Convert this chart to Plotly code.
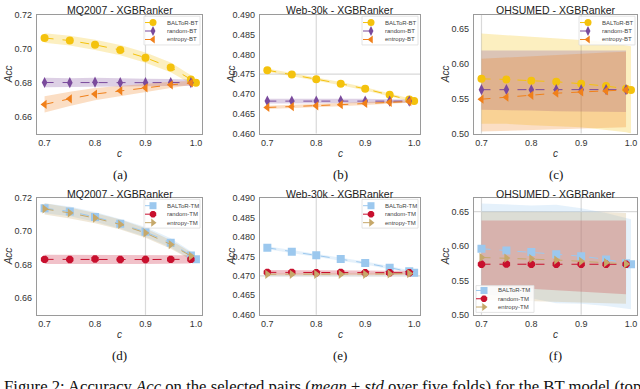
import plotly.graph_objects as go

W, H = 640, 389

# selection ratio c
c_vals = [0.7, 0.75, 0.8, 0.85, 0.9, 0.95, 0.99]
c_full = [0.7, 0.75, 0.8, 0.85, 0.9, 0.95, 0.99, 1.0]

# ---- MQ2007, BT model
mq_bt_baltor = [0.7063, 0.7048, 0.7023, 0.6992, 0.6947, 0.6890, 0.6819, 0.6800]
mq_bt_baltor_lo = [0.7035, 0.7019, 0.6993, 0.6962, 0.6917, 0.6861, 0.6794, 0.6785]
mq_bt_baltor_hi = [0.7091, 0.7077, 0.7053, 0.7022, 0.6977, 0.6919, 0.6844, 0.6815]
mq_bt_random = [0.6801, 0.6800, 0.6803, 0.6800, 0.6800, 0.6801, 0.6800]
mq_bt_random_lo = [0.6773, 0.6774, 0.6777, 0.6776, 0.6777, 0.6780, 0.6782]
mq_bt_random_hi = [0.6829, 0.6826, 0.6829, 0.6824, 0.6823, 0.6822, 0.6818]
mq_bt_entropy = [0.6672, 0.6705, 0.6733, 0.6752, 0.6770, 0.6787, 0.6798]
mq_bt_entropy_lo = [0.6624, 0.6663, 0.6697, 0.6722, 0.6746, 0.6769, 0.6786]
mq_bt_entropy_hi = [0.6720, 0.6747, 0.6769, 0.6782, 0.6794, 0.6805, 0.6810]

# ---- Web-30k, BT model
web_bt_baltor = [0.4760, 0.4749, 0.4737, 0.4726, 0.4713, 0.4698, 0.4686, 0.4682]
web_bt_baltor_lo = [0.4756, 0.4745, 0.4733, 0.4722, 0.4709, 0.4694, 0.4683, 0.4679]
web_bt_baltor_hi = [0.4764, 0.4753, 0.4741, 0.4730, 0.4717, 0.4702, 0.4689, 0.4685]
web_bt_random = [0.4682, 0.4682, 0.4682, 0.4683, 0.4682, 0.4682, 0.4682]
web_bt_random_lo = [0.4676, 0.4676, 0.4676, 0.4677, 0.4676, 0.4677, 0.4678]
web_bt_random_hi = [0.4688, 0.4688, 0.4688, 0.4689, 0.4688, 0.4687, 0.4686]
web_bt_entropy = [0.4666, 0.4668, 0.4670, 0.4673, 0.4676, 0.4679, 0.4681]
web_bt_entropy_lo = [0.4662, 0.4664, 0.4666, 0.4669, 0.4672, 0.4676, 0.4678]
web_bt_entropy_hi = [0.4670, 0.4672, 0.4674, 0.4677, 0.4680, 0.4682, 0.4684]

# ---- OHSUMED, BT model
oh_bt_baltor = [0.5783, 0.5775, 0.5756, 0.5742, 0.5713, 0.5680, 0.5642, 0.5624]
oh_bt_baltor_lo = [0.514, 0.514, 0.512, 0.511, 0.509, 0.505, 0.502, 0.500]
oh_bt_baltor_hi = [0.643, 0.641, 0.639, 0.637, 0.634, 0.631, 0.627, 0.625]
oh_bt_random = [0.5628, 0.5630, 0.5627, 0.5628, 0.5628, 0.5629, 0.5628]
oh_bt_random_lo = [0.534, 0.534, 0.533, 0.532, 0.532, 0.531, 0.531]
oh_bt_random_hi = [0.619, 0.619, 0.620, 0.620, 0.620, 0.620, 0.619]
oh_bt_entropy = [0.5492, 0.5520, 0.5548, 0.5578, 0.5595, 0.5610, 0.5625]
oh_bt_entropy_lo = [0.503, 0.504, 0.505, 0.506, 0.507, 0.508, 0.509]
oh_bt_entropy_hi = [0.607, 0.609, 0.611, 0.613, 0.615, 0.616, 0.617]

# ---- MQ2007, TM model
mq_tm_baltor = [0.7138, 0.7119, 0.7086, 0.7045, 0.6997, 0.6931, 0.6855, 0.6832]
mq_tm_baltor_lo = [0.7108, 0.7090, 0.7057, 0.7016, 0.6968, 0.6903, 0.6830, 0.6815]
mq_tm_baltor_hi = [0.7168, 0.7148, 0.7115, 0.7074, 0.7026, 0.6959, 0.6880, 0.6849]
mq_tm_random = [0.6832, 0.6831, 0.6834, 0.6831, 0.6831, 0.6832, 0.6832]
mq_tm_random_lo = [0.6805, 0.6804, 0.6807, 0.6805, 0.6805, 0.6806, 0.6807]
mq_tm_random_hi = [0.6859, 0.6858, 0.6861, 0.6857, 0.6857, 0.6858, 0.6857]
mq_tm_entropy = [0.7134, 0.7110, 0.7079, 0.7041, 0.6990, 0.6921, 0.6852]
mq_tm_entropy_lo = [0.7100, 0.7077, 0.7048, 0.7011, 0.6962, 0.6895, 0.6830]
mq_tm_entropy_hi = [0.7168, 0.7143, 0.7110, 0.7071, 0.7018, 0.6947, 0.6874]

# ---- Web-30k, TM model
web_tm_baltor = [0.4772, 0.4762, 0.4753, 0.4743, 0.4733, 0.4721, 0.4712, 0.4708]
web_tm_baltor_lo = [0.4768, 0.4758, 0.4749, 0.4739, 0.4729, 0.4717, 0.4709, 0.4705]
web_tm_baltor_hi = [0.4776, 0.4766, 0.4757, 0.4747, 0.4737, 0.4725, 0.4715, 0.4711]
web_tm_random = [0.4709, 0.4709, 0.4708, 0.4709, 0.4708, 0.4708, 0.4708]
web_tm_random_lo = [0.4703, 0.4703, 0.4702, 0.4703, 0.4702, 0.4703, 0.4703]
web_tm_random_hi = [0.4715, 0.4715, 0.4714, 0.4715, 0.4714, 0.4713, 0.4713]
web_tm_entropy = [0.4704, 0.4704, 0.4704, 0.4704, 0.4704, 0.4705, 0.4706]
web_tm_entropy_lo = [0.4701, 0.4701, 0.4701, 0.4701, 0.4701, 0.4702, 0.4703]
web_tm_entropy_hi = [0.4707, 0.4707, 0.4707, 0.4707, 0.4707, 0.4708, 0.4709]

# ---- OHSUMED, TM model
oh_tm_baltor = [0.5961, 0.5937, 0.5914, 0.5881, 0.5853, 0.5806, 0.5750, 0.5736]
oh_tm_baltor_lo = [0.530, 0.527, 0.524, 0.517, 0.516, 0.513, 0.509, 0.508]
oh_tm_baltor_hi = [0.662, 0.661, 0.659, 0.660, 0.655, 0.648, 0.641, 0.639]
oh_tm_random = [0.5736, 0.5737, 0.5736, 0.5735, 0.5736, 0.5736, 0.5735]
oh_tm_random_lo = [0.542, 0.540, 0.538, 0.536, 0.534, 0.532, 0.530]
oh_tm_random_hi = [0.637, 0.637, 0.637, 0.637, 0.637, 0.637, 0.637]
oh_tm_entropy = [0.5834, 0.5825, 0.5816, 0.5797, 0.5778, 0.5760, 0.5740]
oh_tm_entropy_lo = [0.522, 0.521, 0.520, 0.519, 0.518, 0.517, 0.516]
oh_tm_entropy_hi = [0.650, 0.650, 0.650, 0.650, 0.650, 0.649, 0.648]

mq_ticks = [0.66, 0.68, 0.70, 0.72]
web_ticks = [0.460, 0.465, 0.470, 0.475, 0.480, 0.485, 0.490]
oh_ticks = [0.50, 0.55, 0.60, 0.65]
x_ticks = [0.7, 0.8, 0.9, 1.0]

YELLOW = "#F4C20D"
PURPLE = "#7A4A9C"
ORANGE = "#F0801A"
LBLUE = "#9CC8EE"
CRIMSON = "#C8102E"
TAN = "#C6A86A"


def rgba(hexc, a):
    h = hexc.lstrip("#")
    return "rgba(%d,%d,%d,%.2f)" % (int(h[0:2], 16), int(h[2:4], 16), int(h[4:6], 16), a)


bt = [("BALToR-BT", YELLOW, "circle"), ("random-BT", PURPLE, "diamond-tall"),
      ("entropy-BT", ORANGE, "triangle-left")]
tm = [("BALToR-TM", LBLUE, "square"), ("random-TM", CRIMSON, "octagon"),
      ("entropy-TM", TAN, "triangle-right")]

panels = [
    dict(title="MQ2007 - XGBRanker", tag="(a)", yr=[0.65, 0.72], yt=mq_ticks, fmt=".2f",
         vl=[0.9], hl=[], sty=bt, leg="tr",
         data=[(c_full, mq_bt_baltor, mq_bt_baltor_lo, mq_bt_baltor_hi),
               (c_vals, mq_bt_random, mq_bt_random_lo, mq_bt_random_hi),
               (c_vals, mq_bt_entropy, mq_bt_entropy_lo, mq_bt_entropy_hi)]),
    dict(title="Web-30k - XGBRanker", tag="(b)", yr=[0.46, 0.49], yt=web_ticks, fmt=".3f",
         vl=[0.8], hl=[0.475], sty=bt, leg="tr",
         data=[(c_full, web_bt_baltor, web_bt_baltor_lo, web_bt_baltor_hi),
               (c_vals, web_bt_random, web_bt_random_lo, web_bt_random_hi),
               (c_vals, web_bt_entropy, web_bt_entropy_lo, web_bt_entropy_hi)]),
    dict(title="OHSUMED - XGBRanker", tag="(c)", yr=[0.50, 0.67], yt=oh_ticks, fmt=".2f",
         vl=[0.7, 0.9], hl=[], sty=bt, leg="tr",
         data=[(c_full, oh_bt_baltor, oh_bt_baltor_lo, oh_bt_baltor_hi),
               (c_vals, oh_bt_random, oh_bt_random_lo, oh_bt_random_hi),
               (c_vals, oh_bt_entropy, oh_bt_entropy_lo, oh_bt_entropy_hi)]),
    dict(title="MQ2007 - XGBRanker", tag="(d)", yr=[0.65, 0.72], yt=mq_ticks, fmt=".2f",
         vl=[0.9], hl=[], sty=tm, leg="tr",
         data=[(c_full, mq_tm_baltor, mq_tm_baltor_lo, mq_tm_baltor_hi),
               (c_vals, mq_tm_random, mq_tm_random_lo, mq_tm_random_hi),
               (c_vals, mq_tm_entropy, mq_tm_entropy_lo, mq_tm_entropy_hi)]),
    dict(title="Web-30k - XGBRanker", tag="(e)", yr=[0.46, 0.49], yt=web_ticks, fmt=".3f",
         vl=[0.8], hl=[0.470], sty=tm, leg="tr",
         data=[(c_full, web_tm_baltor, web_tm_baltor_lo, web_tm_baltor_hi),
               (c_vals, web_tm_random, web_tm_random_lo, web_tm_random_hi),
               (c_vals, web_tm_entropy, web_tm_entropy_lo, web_tm_entropy_hi)]),
    dict(title="OHSUMED - XGBRanker", tag="(f)", yr=[0.50, 0.67], yt=oh_ticks, fmt=".2f",
         vl=[0.7, 0.9], hl=[0.65], sty=tm, leg="bl",
         data=[(c_full, oh_tm_baltor, oh_tm_baltor_lo, oh_tm_baltor_hi),
               (c_vals, oh_tm_random, oh_tm_random_lo, oh_tm_random_hi),
               (c_vals, oh_tm_entropy, oh_tm_entropy_lo, oh_tm_entropy_hi)]),
]

# panel frames in pixels
cols_px = [(37, 202), (260, 420), (474, 637)]
rows_px = [(10, 132), (198, 318)]

SANS = "Liberation Sans, Arial, sans-serif"
SERIF = "Liberation Serif, Times New Roman, serif"

fig = go.Figure()
annotations = []
shapes = []
legend_items = []  # (x_marker, y, name, color, symbol)
legend_boxes = []  # (left, top, right, bottom)

for i, p in enumerate(panels):
    n = i + 1
    r, c = divmod(i, 3)
    x0, x1 = cols_px[c]
    y0, y1 = rows_px[r]
    xa = "x" if n == 1 else "x%d" % n
    ya = "y" if n == 1 else "y%d" % n

    for (name, col, sym), (xs, m, lo, hi) in zip(p["sty"], p["data"]):
        fig.add_trace(go.Scatter(x=xs, y=hi, mode="lines", line=dict(width=0),
                                 showlegend=False, hoverinfo="skip", xaxis=xa, yaxis=ya))
        fig.add_trace(go.Scatter(x=xs, y=lo, mode="lines", line=dict(width=0),
                                 fill="tonexty", fillcolor=rgba(col, 0.26),
                                 showlegend=False, hoverinfo="skip", xaxis=xa, yaxis=ya))
    for (name, col, sym), (xs, m, lo, hi) in zip(p["sty"], p["data"]):
        fig.add_trace(go.Scatter(x=xs, y=m, mode="lines+markers", name=name, showlegend=False,
                                 line=dict(color=col, width=1, dash="dash"),
                                 marker=dict(color=col, symbol=sym, size=8, line=dict(width=0)),
                                 xaxis=xa, yaxis=ya))

    axis_common = dict(showgrid=False, zeroline=False, showline=True, mirror=True,
                       linecolor="#9a9a9a", linewidth=1.2, ticks="",
                       tickfont=dict(family=SANS, size=9, color="#333"))
    fig.layout["xaxis" if n == 1 else "xaxis%d" % n] = dict(
        domain=[x0 / W, x1 / W], anchor=ya, range=[0.685, 1.012],
        tickvals=x_ticks, tickformat=".1f", **axis_common)
    fig.layout["yaxis" if n == 1 else "yaxis%d" % n] = dict(
        domain=[1 - y1 / H, 1 - y0 / H], anchor=xa, range=p["yr"],
        tickvals=p["yt"], tickformat=p["fmt"], ticklabelstandoff=2, **axis_common)

    for v in p["vl"]:
        shapes.append(dict(type="line", xref=xa, yref="%s domain" % ya, x0=v, x1=v,
                           y0=0, y1=1, line=dict(color="#d9d9d9", width=1.2), layer="below"))
    for v in p["hl"]:
        shapes.append(dict(type="line", xref="%s domain" % xa, yref=ya, x0=0, x1=1,
                           y0=v, y1=v, line=dict(color="#d9d9d9", width=1.2), layer="below"))

    # legend layout (pixels)
    if p["leg"] == "tr":
        mx = x1 - 49
        ys = [y0 + 8, y0 + 16.7, y0 + 25.4]
        legend_boxes.append((x1 - 58, y0 + 1.5, x1 - 2, y0 + 31))
    else:
        mx = x0 + 10
        ys = [y1 - 25, y1 - 16.5, y1 - 8]
        legend_boxes.append((x0 + 2, y1 - 30, x0 + 60, y1 - 2.5))
    for (name, col, sym), yy in zip(p["sty"], ys):
        legend_items.append((mx, yy, name, col, sym))

    cx = (x0 + x1) / 2 / W
    annotations.append(dict(text=p["title"], x=cx, y=1 - (y0 - 4.5) / H, xref="paper", yref="paper",
                            xanchor="center", yanchor="middle", showarrow=False,
                            font=dict(family=SANS, size=10.5, color="#222")))
    annotations.append(dict(text="<i>c</i>", x=cx, y=1 - (y1 + 20.5) / H, xref="paper", yref="paper",
                            xanchor="center", yanchor="middle", showarrow=False,
                            font=dict(family=SANS, size=10, color="#333")))
    annotations.append(dict(text="<i>Acc</i>", x=(x0 - 29) / W, y=1 - (y0 + y1) / 2 / H,
                            xref="paper", yref="paper", xanchor="center", yanchor="middle",
                            textangle=-90, showarrow=False,
                            font=dict(family=SANS, size=10, color="#333")))
    annotations.append(dict(text=p["tag"], x=cx, y=1 - (y1 + 42) / H, xref="paper", yref="paper",
                            xanchor="center", yanchor="middle", showarrow=False,
                            font=dict(family=SERIF, size=13, color="#111")))

# legends drawn on a pixel-based overlay axis so entries can be compact
for (l, t, rr, b) in legend_boxes:
    fig.add_trace(go.Scatter(x=[l, rr, rr, l, l], y=[t, t, b, b, t], mode="lines", fill="toself",
                             fillcolor="rgba(255,255,255,0.85)", line=dict(color="#dddddd", width=0.8),
                             showlegend=False, hoverinfo="skip", xaxis="x7", yaxis="y7"))
for (mx, yy, name, col, sym) in legend_items:
    fig.add_trace(go.Scatter(x=[mx - 8, mx + 8], y=[yy, yy], mode="lines",
                             line=dict(color=col, width=1, dash="dash"),
                             showlegend=False, hoverinfo="skip", xaxis="x7", yaxis="y7"))
    fig.add_trace(go.Scatter(x=[mx], y=[yy], mode="markers",
                             marker=dict(color=col, symbol=sym, size=7, line=dict(width=0)),
                             showlegend=False, hoverinfo="skip", xaxis="x7", yaxis="y7"))
    annotations.append(dict(text=name, x=(mx + 12) / W, y=1 - yy / H, xref="paper", yref="paper",
                            xanchor="left", yanchor="middle", showarrow=False,
                            font=dict(family=SANS, size=6, color="#444")))

fig.layout["xaxis7"] = dict(domain=[0, 1], range=[0, W], visible=False, anchor="y7", fixedrange=True)
fig.layout["yaxis7"] = dict(domain=[0, 1], range=[H, 0], visible=False, anchor="x7", fixedrange=True)

annotations.append(dict(
    text="Figure 2: Accuracy <i>Acc</i> on the selected pairs (<i>mean</i> \u00b1 <i>std</i> "
         "over five folds) for the BT model (top",
    x=2 / W, y=1 - 379.5 / H, xref="paper", yref="paper", xanchor="left", yanchor="top",
    showarrow=False, font=dict(family=SERIF, size=16.7, color="#111")))

fig.update_layout(width=W, height=H, margin=dict(l=0, r=0, t=0, b=0),
                  paper_bgcolor="white", plot_bgcolor="rgba(0,0,0,0)", showlegend=False,
                  annotations=annotations, shapes=shapes)

fig.write_html("out.html", config={"displayModeBar": False},
               post_script="document.body.style.margin='0';")
